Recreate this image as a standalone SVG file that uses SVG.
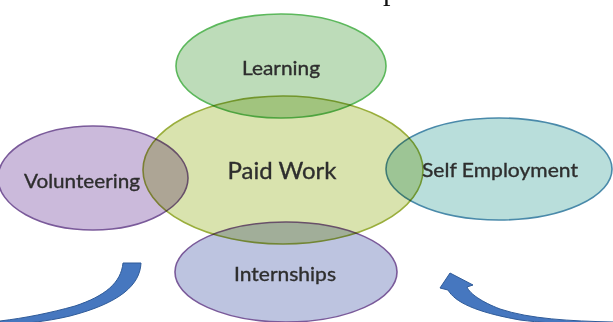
<svg xmlns="http://www.w3.org/2000/svg" width="613" height="322" viewBox="0 0 613 322">
  <style>
    .node ellipse { stroke-width: 1.6; mix-blend-mode: multiply; }
    .label { font-family: Lato, "Open Sans", "Liberation Sans", sans-serif; fill: #2e2e2e; stroke: #2e2e2e; stroke-width: 0.35; text-anchor: middle; dominant-baseline: central; }
    .arrow { fill: #4677bf; stroke: #2f5b99; stroke-width: 1; }
  </style>

  <rect width="613" height="322" fill="#ffffff"/>

  <!-- heading above the frame; only its descender shows -->
  <text x="383" y="0" font-family="Liberation Serif, serif" font-size="30" fill="#111">p</text>

  <g id="learning" class="node">
    <ellipse cx="281" cy="66" rx="105" ry="52" fill="#bddcb9" stroke="#5cb85c"/>
  </g>
  <g id="paid-work" class="node">
    <ellipse cx="283" cy="170" rx="140" ry="74" fill="#d9e3ae" stroke="#9aae3c"/>
  </g>
  <g id="volunteering" class="node">
    <ellipse cx="93" cy="178" rx="95" ry="52" fill="#cbbadb" stroke="#7a5a9a"/>
  </g>
  <g id="self-employment" class="node">
    <ellipse cx="499" cy="169" rx="113" ry="51" fill="#b9dedb" stroke="#4a8aaa"/>
  </g>
  <g id="internships" class="node">
    <ellipse cx="286" cy="272" rx="111" ry="50" fill="#bdc4e0" stroke="#7a5a9a"/>
  </g>

  <g id="labels">
    <text class="label" x="281" y="67" font-size="19" textLength="78" lengthAdjust="spacingAndGlyphs">Learning</text>
    <text class="label" x="282" y="169" font-size="24" textLength="109" lengthAdjust="spacingAndGlyphs">Paid Work</text>
    <text class="label" x="82" y="180" font-size="19" textLength="116" lengthAdjust="spacingAndGlyphs">Volunteering</text>
    <text class="label" x="500" y="169" font-size="19" textLength="156" lengthAdjust="spacingAndGlyphs">Self Employment</text>
    <text class="label" x="285" y="273" font-size="19" textLength="102" lengthAdjust="spacingAndGlyphs">Internships</text>
  </g>

  <g id="connectors">
    <!-- left sweep, head out of frame -->
    <path class="arrow" d="M123,263 L141,263 C140,285 120,303 70,316 C45,322 20,324 0,325 L0,321 C25,318 50,313 75,306 C105,296 121,283 123,263 Z" fill="#3f6aa8"/>
    <!-- right sweep with head -->
    <path class="arrow" d="M613,322 C570,321 530,319 500,309 C482,302 470,294 467,287 L473,285 L450,273 L440,288 L448,290 C455,302 475,312 520,320 C560,325 590,324 613,324 Z"/>
  </g>
</svg>
